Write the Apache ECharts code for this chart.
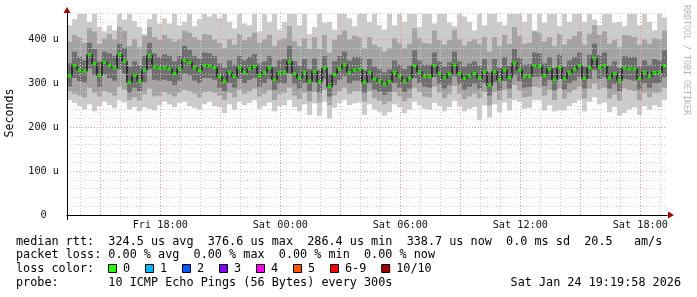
<!DOCTYPE html>
<html><head><meta charset="utf-8">
<script src="https://cdn.jsdelivr.net/npm/echarts@6/dist/echarts.min.js"></script>
<style>html,body{margin:0;padding:0;background:#fff}#c{width:697px;height:297px}</style>
</head><body><div id="c"></div>
<script>
// ---- time frame ----
const START_MIN = 13 * 60 + 20;   // Fri 13:20 (minutes since Fri 00:00)
const RANGE_MIN = 1800;           // 30 hours shown
const STEP_MIN = 15;              // one smoke column per 15 minutes
const SLOT_MIN = 20;              // grid category slot

// ---- median RTT (microseconds) ----
const median = [317,340,330,328,365,345,318,348,340,335,365,350,302,318,305,330,364,337,335,335,333,322,333,352,348,335,329,340,340,336,
315,305,325,315,335,325,333,338,318,325,335,308,324,325,350,322,312,325,305,327,303,335,292,320,333,342,325,330,332,
302,325,310,305,298,304,325,315,305,312,340,326,316,315,340,322,312,321,342,322,311,317,322,312,326,295,327,308,330,313,346,
330,315,316,340,339,318,333,308,336,310,324,332,340,311,336,357,336,340,312,322,307,335,333,332,310,325,315,325,325,340];
// ---- smoke: dark band ----
const darkHigh = [345,372,360,352,392,378,350,372,368,362,390,380,338,350,340,362,392,368,360,366,362,350,362,385,376,362,356,370,368,362,
345,335,352,342,362,352,360,366,345,350,362,338,352,355,385,350,340,355,332,356,330,362,322,350,362,372,352,360,360,
330,355,338,332,325,332,352,342,332,340,375,352,342,342,370,350,338,348,372,350,338,345,350,340,355,325,355,336,360,340,378,
358,342,344,370,368,345,360,335,365,338,352,360,370,338,365,390,364,370,340,350,335,362,360,360,338,352,342,355,352,375];
const darkLow = [293,312,305,302,334,318,292,320,312,306,332,322,278,290,282,302,332,308,306,308,305,296,306,322,318,306,300,312,312,308,
290,282,300,290,310,300,308,312,292,300,310,285,300,300,322,298,288,300,282,302,278,310,270,296,308,316,300,306,306,
278,300,286,280,274,280,300,290,280,288,312,300,292,290,314,298,288,296,316,298,286,292,298,288,300,272,302,284,305,288,318,
305,290,292,315,314,294,308,284,310,286,300,306,315,288,310,330,310,315,288,298,282,310,308,306,286,300,290,300,300,314];
// ---- smoke: mid band ----
const midHigh = [395,410,405,392,425,418,390,402,412,400,428,420,385,400,382,408,428,405,398,410,402,395,400,420,415,405,398,412,410,400,
392,380,400,388,412,398,405,415,392,400,410,385,398,402,430,396,385,402,378,405,378,410,370,398,410,420,400,408,405,
380,405,388,382,372,380,402,392,380,390,425,402,392,390,420,398,388,398,422,400,386,395,400,390,405,372,405,385,410,390,428,
408,390,392,418,415,395,405,385,412,388,400,408,418,388,412,432,410,418,390,398,382,410,408,405,388,400,390,402,400,420];
const midLow = [282,276,272,268,290,278,270,282,278,272,292,286,262,268,260,275,288,270,272,280,275,270,278,285,282,276,268,280,282,278,
272,262,278,268,285,276,282,288,270,276,284,262,275,278,290,272,264,278,258,280,256,285,250,272,282,290,276,282,282,
258,282,266,260,252,258,280,270,258,266,290,280,270,268,292,278,266,275,294,276,264,270,276,266,280,250,280,262,285,266,296,
284,268,270,292,290,272,285,262,288,265,278,285,292,265,288,300,286,290,265,275,260,288,285,282,262,278,268,278,278,290];
// ---- smoke: light band (min / max) ----
const maxRtt = [432,446,458,458,440,458,428,418,432,420,458,445,458,442,428,412,446,458,436,448,436,458,432,440,458,430,446,458,452,458,
448,458,440,425,458,436,432,458,418,458,440,458,422,440,458,458,432,458,412,428,458,438,440,422,458,458,448,430,458,
458,440,458,432,422,458,432,458,440,458,458,428,458,458,436,458,458,438,430,458,452,440,420,458,432,458,458,440,432,458,458,
458,440,458,420,458,438,458,458,430,458,440,458,458,440,458,445,432,458,458,438,440,430,458,458,432,458,440,420,458,450];
const minRtt = [262,255,248,240,252,236,248,258,250,244,262,256,240,246,236,245,242,238,250,258,252,246,255,258,248,244,240,252,258,248,
245,232,252,240,258,250,255,262,242,248,256,236,248,250,262,246,236,252,228,254,226,258,220,244,255,262,250,254,256,
228,252,240,235,226,234,252,245,232,240,258,250,242,240,255,248,236,246,260,248,236,242,246,216,250,222,252,234,256,238,262,
258,242,244,262,262,238,250,236,238,238,248,255,262,236,258,268,252,256,234,246,226,232,240,245,228,248,240,250,246,262];

// ---- axis ----
const Y_MAX = 460;
const yLabelValues = [0, 100, 200, 300, 400];
const labelHours = [0, 6, 12, 18];

// ---- legend / text ----
const statLines = [
  'median rtt:  324.5 us avg  376.6 us max  286.4 us min  338.7 us now  0.0 ms sd  20.5   am/s',
  'packet loss: 0.00 % avg  0.00 % max  0.00 % min  0.00 % now',
  'loss color:',
  'probe:       10 ICMP Echo Pings (56 Bytes) every 300s'
];
const dateText = 'Sat Jan 24 19:19:58 2026';
const lossLabels = ['0', '1', '2', '3', '4', '5', '6-9', '10/10'];
const lossColors = ['#26ff00', '#00b8ff', '#0059ff', '#7e00ff', '#ff00ff', '#ff5500', '#ff0000', '#a10000'];

// ---- build ----
const pad = n => (n < 10 ? '0' : '') + n;
const timeSlots = [];
for (let m = 0; m <= RANGE_MIN; m += SLOT_MIN) {
  const abs = START_MIN + m;
  const hm = abs % 1440;
  timeSlots.push((abs >= 1440 ? 'Sat' : 'Fri') + ' ' + pad(Math.floor(hm / 60)) + ':' + pad(hm % 60));
}
const hourOf = v => parseInt(v.slice(4, 6), 10);
const onHour = v => v.slice(7) === '00';

const MONO = '"DejaVu Sans Mono", "Liberation Mono", monospace';
const GRID_MINOR = '#cfcfcf';
const GRID_MAJOR = '#e39a9a';

function band(lo, hi) {
  return median.map((_, i) => [i * STEP_MIN, lo[i], hi[i]]);
}
function bandRender(color) {
  return function (params, api) {
    const t = api.value(0);
    const a = api.coord([t, api.value(2)]);
    const b = api.coord([t + STEP_MIN, api.value(1)]);
    return { type: 'rect', shape: { x: a[0], y: a[1], width: b[0] - a[0], height: b[1] - a[1] },
             style: { fill: color } };
  };
}
const medianPts = median.map((v, i) => [i * STEP_MIN + STEP_MIN / 2, v]);

const graphics = [];
graphics.push({ type: 'text', x: 10, y: 113, rotation: Math.PI / 2,
  style: { text: 'Seconds', font: '11.6px ' + MONO, fill: '#000', textAlign: 'center', textVerticalAlign: 'middle' } });
graphics.push({ type: 'text', x: 686, y: 5, rotation: -Math.PI / 2,
  style: { text: 'RRDTOOL / TOBI OETIKER', font: '8.3px ' + MONO, fill: '#b4b4b4', textAlign: 'left', textVerticalAlign: 'middle' } });
const lineY = [241.5, 255.3, 269, 282.5];
statLines.forEach((t, i) => graphics.push({ type: 'text', x: 16, y: lineY[i],
  style: { text: t, font: '11.8px ' + MONO, fill: '#000', textAlign: 'left', textVerticalAlign: 'middle' } }));
graphics.push({ type: 'text', x: 681, y: lineY[3],
  style: { text: dateText, font: '11.8px ' + MONO, fill: '#000', textAlign: 'right', textVerticalAlign: 'middle' } });
let lx = 108.5;
lossLabels.forEach((lab, i) => {
  graphics.push({ type: 'rect', shape: { x: lx, y: 264.5, width: 8, height: 8 },
    style: { fill: lossColors[i], stroke: '#000', lineWidth: 1 } });
  graphics.push({ type: 'text', x: lx + 14.5, y: lineY[2],
    style: { text: lab, font: '11.8px ' + MONO, fill: '#000', textAlign: 'left', textVerticalAlign: 'middle' } });
  lx += 15 + lab.length * 7.1 + 14.9;
});

const option = {
  animation: false,
  backgroundColor: '#fff',
  grid: { left: 67, right: 30, top: 13, bottom: 82, containLabel: false },
  xAxis: [
    { type: 'category', position: 'bottom', data: timeSlots, boundaryGap: false, z: 6,
      axisLine: { show: true, lineStyle: { color: '#000', width: 1 } },
      axisTick: { show: true, length: 5, interval: i => i === 0, lineStyle: { color: '#000' } },
      axisLabel: { show: true, margin: 5, color: '#111', fontFamily: MONO, fontSize: 10.2,
        interval: (i, v) => onHour(v) && labelHours.indexOf(hourOf(v)) >= 0 },
      splitLine: { show: true, interval: (i, v) => onHour(v),
        lineStyle: { color: GRID_MINOR, width: 1, type: [1, 2] } } },
    { type: 'category', position: 'bottom', data: timeSlots, boundaryGap: false, z: 7,
      axisLine: { show: false }, axisTick: { show: false }, axisLabel: { show: false },
      splitLine: { show: true, interval: (i, v) => onHour(v) && hourOf(v) % 3 === 0,
        lineStyle: { color: GRID_MAJOR, width: 1, type: [1, 2] } } },
    { type: 'value', position: 'bottom', min: 0, max: RANGE_MIN, z: 5,
      axisLine: { show: true, symbol: ['none', 'triangle'], symbolSize: [7, 6], symbolOffset: [0, 4],
        lineStyle: { color: '#a00000', width: 1 } },
      axisTick: { show: false }, axisLabel: { show: false }, splitLine: { show: false } }
  ],
  yAxis: [
    { type: 'value', position: 'left', min: 0, max: Y_MAX, interval: 100, z: 7,
      axisLine: { show: true, lineStyle: { color: '#000', width: 1 } },
      axisTick: { show: false },
      axisLabel: { show: true, margin: 8, color: '#111', fontFamily: MONO, fontSize: 10.2, showMaxLabel: false,
        formatter: v => yLabelValues.indexOf(v) < 0 ? '' : (v === 0 ? '0  ' : v + ' u') },
      splitLine: { show: true, showMinLine: false, showMaxLine: false,
        lineStyle: { color: GRID_MAJOR, width: 1, type: [1, 2] } } },
    { type: 'value', position: 'left', min: 0, max: Y_MAX, interval: 20, z: 5,
      axisLine: { show: true, symbol: ['none', 'triangle'], symbolSize: [7, 6], symbolOffset: [0, 3],
        lineStyle: { color: '#a00000', width: 1 } },
      axisTick: { show: false }, axisLabel: { show: false },
      splitLine: { show: true, showMinLine: false,
        lineStyle: { color: GRID_MINOR, width: 1, type: [1, 2] } } }
  ],
  series: [
    { type: 'custom', name: 'light', xAxisIndex: 2, yAxisIndex: 0, clip: true, z: 1,
      encode: { x: 0, y: [1, 2] }, data: band(minRtt, maxRtt), renderItem: bandRender('#cbcbcb') },
    { type: 'custom', name: 'mid', xAxisIndex: 2, yAxisIndex: 0, clip: true, z: 1,
      encode: { x: 0, y: [1, 2] }, data: band(midLow, midHigh), renderItem: bandRender('#a3a3a3') },
    { type: 'custom', name: 'dark', xAxisIndex: 2, yAxisIndex: 0, clip: true, z: 1,
      encode: { x: 0, y: [1, 2] }, data: band(darkLow, darkHigh), renderItem: bandRender('#6f6f6f') },
    { type: 'line', name: 'median-link', xAxisIndex: 2, yAxisIndex: 0, step: 'middle', showSymbol: false, z: 2,
      data: medianPts, lineStyle: { color: '#1c1c1c', width: 1.5 } },
    { type: 'scatter', name: 'median', xAxisIndex: 2, yAxisIndex: 0, z: 10, symbol: 'rect', symbolSize: [4, 3],
      data: medianPts, itemStyle: { color: lossColors[0] } }
  ],
  graphic: graphics
};
const chart = echarts.init(document.getElementById('c'));
chart.setOption(option);
</script>
</body></html>
